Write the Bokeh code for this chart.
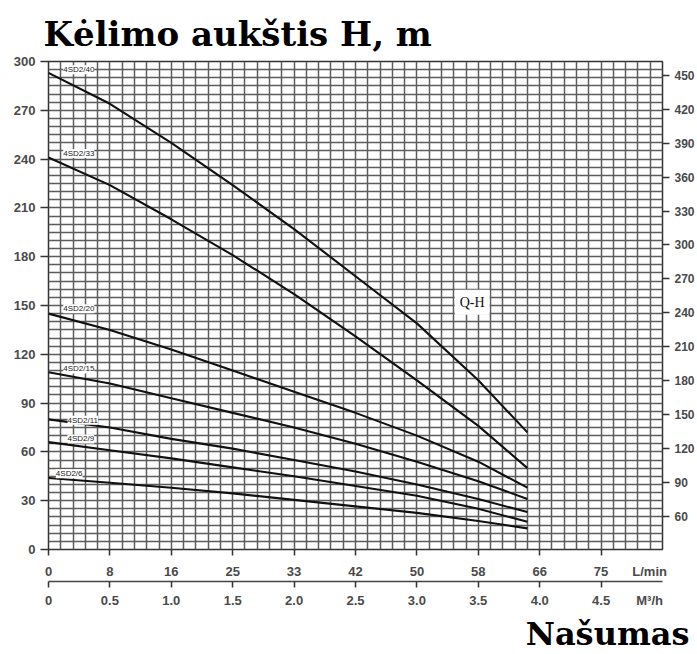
from bokeh.plotting import figure
from bokeh.models import (Range1d, LinearAxis, SingleIntervalTicker, FixedTicker,
                          Label, LabelSet, ColumnDataSource, Title)
from bokeh.core.properties import value
from bokeh.embed import file_html
from bokeh.resources import INLINE

# ---- data (flow in m3/h, head in m) ----
flow_m3h = [0.0, 0.5, 1.0, 1.5, 2.0, 2.5, 3.0, 3.5, 3.9]
head_40 = [293, 274, 250, 224, 197, 168, 139, 104, 72]
head_33 = [241, 224, 203, 181, 157, 131, 104, 76, 50]
head_20 = [145, 135, 123, 110, 97, 84, 70, 54, 38]
head_15 = [109, 102, 93, 84, 75, 65, 54, 42, 31]
head_11 = [80, 75, 68, 62, 55, 48, 40, 31, 23]
head_9 = [66, 61, 56, 50.5, 45, 39, 33, 25, 17]
head_6 = [44, 41, 38, 34.5, 30.5, 26.5, 22.5, 17.5, 13]
all_heads = [head_40, head_33, head_20, head_15, head_11, head_9, head_6]

model_names = ["4SD2/40", "4SD2/33", "4SD2/20", "4SD2/15", "4SD2/11", "4SD2/9", "4SD2/6"]
name_x = [0.12, 0.12, 0.12, 0.12, 0.155, 0.155, 0.06]
name_y = [295, 243.5, 148, 111, 79.5, 68, 46.5]

q_ticks = [0, 0.5, 1.0, 1.5, 2.0, 2.5, 3.0, 3.5, 4.0, 4.5]
lmin_labels = ["0", "8", "16", "25", "33", "42", "50", "58", "66", "75"]
m3h_labels = ["0", "0.5", "1.0", "1.5", "2.0", "2.5", "3.0", "3.5", "4.0", "4.5"]
unit_pos = 4.895
lmin_unit = "L/min"
m3h_unit = "M³/h"

GRAY = "#4a4a4a"
TICKFONT = "Liberation Sans"
TITLEFONT = "DejaVu Serif"

p = figure(width=697, height=654, x_range=Range1d(0, 5), y_range=Range1d(0, 300),
           output_backend="svg", toolbar_location=None,
           min_border_left=48, min_border_right=32, min_border_top=61, min_border_bottom=104)
p.background_fill_color = "white"
p.border_fill_color = "white"
p.outline_line_color = "#333333"
p.outline_line_width = 1.5

# grid
p.xgrid.ticker = SingleIntervalTicker(interval=0.1, num_minor_ticks=0)
p.ygrid.ticker = SingleIntervalTicker(interval=5, num_minor_ticks=0)
p.grid.grid_line_color = "#5c5c5c"
p.grid.grid_line_width = 1.5
p.grid.grid_line_alpha = 1.0

def style_axis(ax, tick_out, standoff, size="13px"):
    ax.axis_line_color = None
    ax.major_tick_out = tick_out
    ax.major_tick_in = 0
    ax.minor_tick_line_color = None
    ax.major_tick_line_color = "#333333"
    ax.major_tick_line_width = 1.5
    ax.major_label_standoff = standoff
    ax.major_label_text_font = TICKFONT
    ax.major_label_text_font_size = size
    ax.major_label_text_font_style = "bold"
    ax.major_label_text_color = GRAY

# left axis (m)
yl = p.yaxis[0]
yl.ticker = SingleIntervalTicker(interval=30, num_minor_ticks=0)
style_axis(yl, 8, 5)

# right axis
p.extra_y_ranges = {"right": Range1d(30.4, 462.4)}
yr = LinearAxis(y_range_name="right", ticker=SingleIntervalTicker(interval=30, num_minor_ticks=0))
style_axis(yr, 7, 5, "12px")
p.add_layout(yr, "right")

def unit_axis(ax, labels, unit, standoff):
    # visible tick marks are drawn as minor ticks; labelled positions are major ticks
    ax.ticker = FixedTicker(ticks=q_ticks + [unit_pos], minor_ticks=q_ticks)
    ax.major_label_overrides = {t: s for t, s in zip(q_ticks + [unit_pos], labels + [unit])}
    style_axis(ax, 6, standoff)
    ax.major_tick_line_color = None
    ax.minor_tick_line_color = "#333333"
    ax.minor_tick_line_width = 1.5
    ax.minor_tick_out = 6
    ax.minor_tick_in = 0

# bottom axis 1: L/min
xa = p.xaxis[0]
unit_axis(xa, lmin_labels, lmin_unit, 8)

# bottom axis 2: m3/h
xb = LinearAxis()
unit_axis(xb, m3h_labels, m3h_unit, 5)
xb.axis_line_color = "#444444"
xb.axis_line_width = 1.5
p.add_layout(xb, "below")

# curves
for h in all_heads:
    p.line(flow_m3h, h, line_color="#111111", line_width=2.1)

# curve names
src = ColumnDataSource(dict(x=name_x, y=name_y, text=model_names))
p.add_layout(LabelSet(x="x", y="y", text="text", source=src,
                      text_font=value(TICKFONT), text_font_size=value("8px"),
                      text_color=value("#222222"),
                      text_baseline="middle", text_align="left",
                      background_fill_color="white", background_fill_alpha=1.0))

p.add_layout(Label(x=3.45, y=152, text="Q-H", text_font="Liberation Serif",
                   text_font_size="14px", text_color="#111111",
                   text_align="center", text_baseline="middle",
                   background_fill_color="white", background_fill_alpha=1.0,
                   padding=5))

# titles
p.add_layout(Title(text="Kėlimo aukštis H, m", text_font=TITLEFONT,
                   text_font_size="34px", text_font_style="bold", text_color="black",
                   align="left", offset=-5, standoff=16), "above")
p.add_layout(Title(text="Našumas", text_font=TITLEFONT,
                   text_font_size="32px", text_font_style="bold", text_color="black",
                   align="right", offset=-27, standoff=4), "below")

open("out.html", "w").write(file_html(p, INLINE))
